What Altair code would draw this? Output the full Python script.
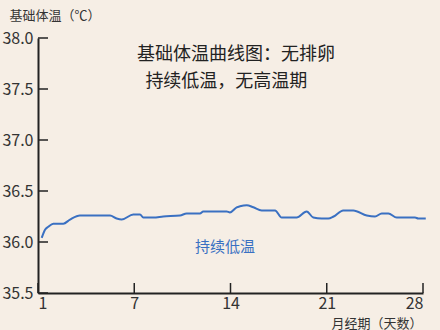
import altair as alt
import pandas as pd

# Basal body temperature over one cycle (day offset from cycle start, °C)
day = [0.27, 0.51, 0.75, 1.11, 1.84, 2.33, 3.05, 5.24, 5.72, 6.09, 6.93, 7.42,
       7.66, 8.39, 9.11, 10.33, 10.81, 11.78, 12.02, 13.72, 13.96, 14.45, 14.69,
       15.18, 15.66, 16.27, 17.24, 17.72, 18.81, 19.54, 20.02, 20.63, 21.11,
       21.5, 22.2, 22.93, 23.91, 24.51, 25.0, 25.48, 26.09, 27.42, 27.66, 28.2]
temp = [36.04, 36.12, 36.15, 36.18, 36.18, 36.22, 36.26, 36.26, 36.23, 36.22,
        36.27, 36.27, 36.24, 36.24, 36.25, 36.26, 36.28, 36.28, 36.30, 36.30,
        36.29, 36.34, 36.35, 36.36, 36.34, 36.31, 36.31, 36.24, 36.24, 36.30,
        36.24, 36.23, 36.23, 36.25, 36.31, 36.31, 36.26, 36.25, 36.28, 36.28,
        36.24, 36.24, 36.23, 36.23]

x_ticks = [0, 7, 14, 21, 28]
y_ticks = [35.5, 36.0, 36.5, 37.0, 37.5, 38.0]

title_lines = ["基础体温曲线图：无排卵", "持续低温，无高温期"]
title_day = [14.4, 13.7]
title_temp = [37.83, 37.57]

note_text = ["持续低温"]
note_day = [13.6]
note_temp = [35.95]

CJK = "Noto Sans CJK SC"
INK = "#222222"
BLUE = "#3a70c2"

curve = pd.DataFrame({"day": day, "temp": temp})
titles = pd.DataFrame({"text": title_lines, "day": title_day, "temp": title_temp})
notes = pd.DataFrame({"text": note_text, "day": note_day, "temp": note_temp})
xt = pd.DataFrame({"day": x_ticks})
yt = pd.DataFrame({"temp": y_ticks})

x_scale = alt.Scale(domain=[0, 28], nice=False)
y_scale = alt.Scale(domain=[35.5, 38.0], nice=False, zero=False)

x_axis = alt.Axis(
    values=x_ticks, labelExpr="datum.value == 0 ? '1' : datum.label",
    ticks=False, grid=False, domainColor=INK, domainWidth=2,
    labelFont=CJK, labelFontSize=16, labelColor="#333333", labelPadding=2,
    title="月经期（天数）", titleFont=CJK, titleFontSize=13, titleFontWeight="normal",
    titleColor="#333333", titleAlign="right", titleAnchor="start",
    titleX=384, titleY=30, titleBaseline="middle",
)
y_axis = alt.Axis(
    values=y_ticks, format=".1f", ticks=False, grid=False,
    domainColor=INK, domainWidth=2,
    labelFont=CJK, labelFontSize=16, labelColor="#333333", labelPadding=5,
    title="基础体温（℃）", titleFont=CJK, titleFontSize=13, titleFontWeight="normal",
    titleColor="#333333", titleAngle=0, titleAlign="left", titleAnchor="start",
    titleX=-29, titleY=-23, titleBaseline="middle",
)

line = alt.Chart(curve).mark_line(color=BLUE, strokeWidth=2, interpolate="monotone").encode(
    x=alt.X("day:Q", scale=x_scale, axis=x_axis),
    y=alt.Y("temp:Q", scale=y_scale, axis=y_axis),
)

# inward-pointing tick marks
y_tick_marks = alt.Chart(yt).mark_rule(color=INK, strokeWidth=1.5).encode(
    y=alt.Y("temp:Q", scale=y_scale), x=alt.value(0), x2=alt.value(10)
)
x_tick_marks = alt.Chart(xt).mark_rule(color=INK, strokeWidth=1.5).encode(
    x=alt.X("day:Q", scale=x_scale), y=alt.value(255), y2=alt.value(245)
)

heading = alt.Chart(titles).mark_text(font=CJK, fontSize=18, color=INK, align="center",
                                     baseline="middle").encode(
    x=alt.X("day:Q", scale=x_scale), y=alt.Y("temp:Q", scale=y_scale), text="text:N"
)
note = alt.Chart(notes).mark_text(font=CJK, fontSize=15, color=BLUE, align="center",
                                  baseline="middle").encode(
    x=alt.X("day:Q", scale=x_scale), y=alt.Y("temp:Q", scale=y_scale), text="text:N"
)

chart = alt.layer(line, y_tick_marks, x_tick_marks, heading, note).properties(
    width=385, height=255,
    padding={"left": 38, "top": 38, "right": 17, "bottom": 37},
    autosize=alt.AutoSizeParams(type="none"),
    background="#f6eee5",
).configure_view(stroke=None)

chart.save("out.html", embed_options={"renderer": "svg", "actions": False})
